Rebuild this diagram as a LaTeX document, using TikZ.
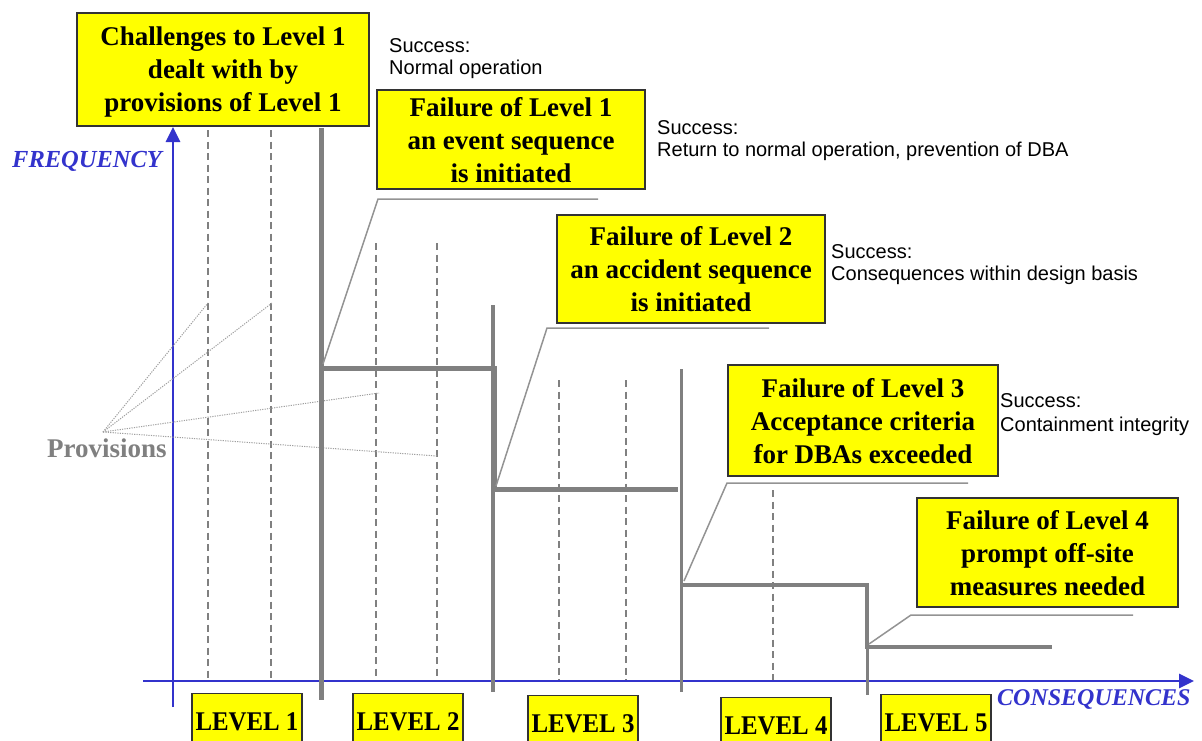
\documentclass[tikz,border=0pt]{standalone}
\usepackage{fontspec}
\usepackage{graphicx}
\setmainfont{Liberation Serif}
\newfontfamily\arialfont{Liberation Sans}
\usetikzlibrary{arrows.meta}
\definecolor{axisblue}{RGB}{51,51,204}
\definecolor{stepgray}{RGB}{128,128,128}
\definecolor{boxyellow}{RGB}{255,255,0}
\newcommand{\levellabel}[1]{\scalebox{0.92}[1]{#1}}

\begin{document}
\begin{tikzpicture}[x=1pt,y=-1pt,
  failbox/.style={draw=black!80, line width=1.2pt, fill=boxyellow, inner sep=0pt,
    align=center, text depth=0pt, font=\bfseries\fontsize{27}{33}\selectfont},
  levelbox/.style={draw=black!80, line width=1.2pt, fill=boxyellow, inner sep=0pt,
    minimum width=110pt, minimum height=56pt, anchor=north,
    font=\bfseries\fontsize{27}{30}\selectfont},
  successtext/.style={anchor=north west, inner sep=0pt, align=left,
    font=\arialfont\fontsize{20}{22}\selectfont},
  axisline/.style={draw=axisblue, line width=2.8pt, -{Triangle[length=15pt,width=14pt]}},
  axislabel/.style={text=axisblue, inner sep=0pt, anchor=base west,
    font=\bfseries\itshape\fontsize{24.5}{30}\selectfont},
  stepline/.style={draw=stepgray, line width=5pt},
  divider/.style={draw=stepgray, line width=3.5pt},
  gridline/.style={draw=stepgray, line width=1.1pt, dash pattern=on 7pt off 4.5pt},
  callout/.style={draw=stepgray!85, line width=1.5pt},
  fanline/.style={draw=gray!75, line width=1pt, dash pattern=on 1.2pt off 1.2pt}
]
\useasboundingbox (0,0) rectangle (1202,740);

% dashed provision lines inside each level
\draw[gridline] (208,130) -- (208,680);
\draw[gridline] (271,130) -- (271,680);
\draw[gridline] (376,243) -- (376,680);
\draw[gridline] (437,243) -- (437,680);
\draw[gridline] (559,380) -- (559,680);
\draw[gridline] (626,380) -- (626,680);
\draw[gridline] (773,490) -- (773,680);

% axes
\coordinate (xo) at (143,681);
\coordinate (xe) at (1194,681);
\coordinate (yo) at (173,707);
\coordinate (ye) at (173,127);
\draw[axisline] (xo) -- (xe);
\draw[axisline] (yo) -- (ye);
\node[axislabel] (freq) at (12,167) {FREQUENCY};
\node[axislabel, font=\bfseries\itshape\fontsize{24}{30}\selectfont] (cons) at (997,705) {CONSEQUENCES};

% provisions fan
\node[inner sep=0pt, anchor=base west, text=stepgray, font=\bfseries\fontsize{27}{30}\selectfont] (prov) at (47,457) {Provisions};
\coordinate (pf) at (103,432);
\coordinate (p1) at (208,303);
\coordinate (p2) at (272,303);
\coordinate (p3) at (379,393);
\coordinate (p4) at (437,456);
\foreach \e in {p1,p2,p3,p4} \draw[fanline] (pf) -- (\e);

% level dividers
\draw[stepline] (321,128) -- (321,700);
\draw[divider] (493,305) -- (493,692);
\draw[divider, line width=3pt] (681,369) -- (681,692);
\draw[divider, line width=3pt] (867,585) -- (867,695);

% frequency steps
\coordinate (s1) at (321,368);
\coordinate (s2) at (494,489);
\coordinate (s3) at (681,585);
\coordinate (s4) at (867,647);
\draw[stepline] (s1) -- (494,368) -- (s2) -- (678,489);
\draw[stepline, line width=4.5pt] (s3) -- (867,585) -- (s4) -- (1052,647);

% boxes
\node[failbox, minimum width=292pt, minimum height=113pt] (b1) at (223,69.5)
  {Challenges to Level 1\\dealt with by\\provisions of Level 1};
\node[failbox, minimum width=268pt, minimum height=99pt] (b2) at (511,139.5)
  {Failure of Level 1\\an event sequence\\is initiated};
\node[failbox, minimum width=268pt, minimum height=108pt] (b3) at (691,269)
  {Failure of Level 2\\an accident sequence\\is initiated};
\node[failbox, minimum width=270pt, minimum height=111pt] (b4) at (863,420.5)
  {Failure of Level 3\\Acceptance criteria\\for DBAs exceeded};
\node[failbox, minimum width=261pt, minimum height=109pt] (b5) at (1047.5,552.5)
  {Failure of Level 4\\prompt off-site\\measures needed};

% callouts from the boxes to the step corners
\coordinate (k1a) at (378,199); \coordinate (k1b) at (598,199); \coordinate (t1) at (323,364);
\coordinate (k2a) at (547,328); \coordinate (k2b) at (769,328); \coordinate (t2) at (496,486);
\coordinate (k3a) at (727,483); \coordinate (k3b) at (968,483); \coordinate (t3) at (684,581);
\coordinate (k4a) at (911,615); \coordinate (k4b) at (1133,615); \coordinate (t4) at (869,644);
\draw[callout] (k1b) -- (k1a) -- (t1);
\draw[callout] (k2b) -- (k2a) -- (t2);
\draw[callout] (k3b) -- (k3a) -- (t3);
\draw[callout] (k4b) -- (k4a) -- (t4);

% success notes
\node[successtext] (n1) at (389,38.5) {Success:\\Normal operation};
\node[successtext] (n2) at (657,120.5) {Success:\\Return to normal operation, prevention of DBA};
\node[successtext] (n3) at (831,244.5) {Success:\\Consequences within design basis};
\node[successtext, font=\arialfont\fontsize{20}{24}\selectfont] (n4) at (1000,393.5) {Success:\\Containment integrity};

% level labels
\node[levelbox] (l1) at (247,693) {\levellabel{LEVEL 1}};
\node[levelbox] (l2) at (408,693) {\levellabel{LEVEL 2}};
\node[levelbox] (l3) at (583,695) {\levellabel{LEVEL 3}};
\node[levelbox] (l4) at (776,697) {\levellabel{LEVEL 4}};
\node[levelbox] (l5) at (936,694) {\levellabel{LEVEL 5}};
\end{tikzpicture}
\end{document}
